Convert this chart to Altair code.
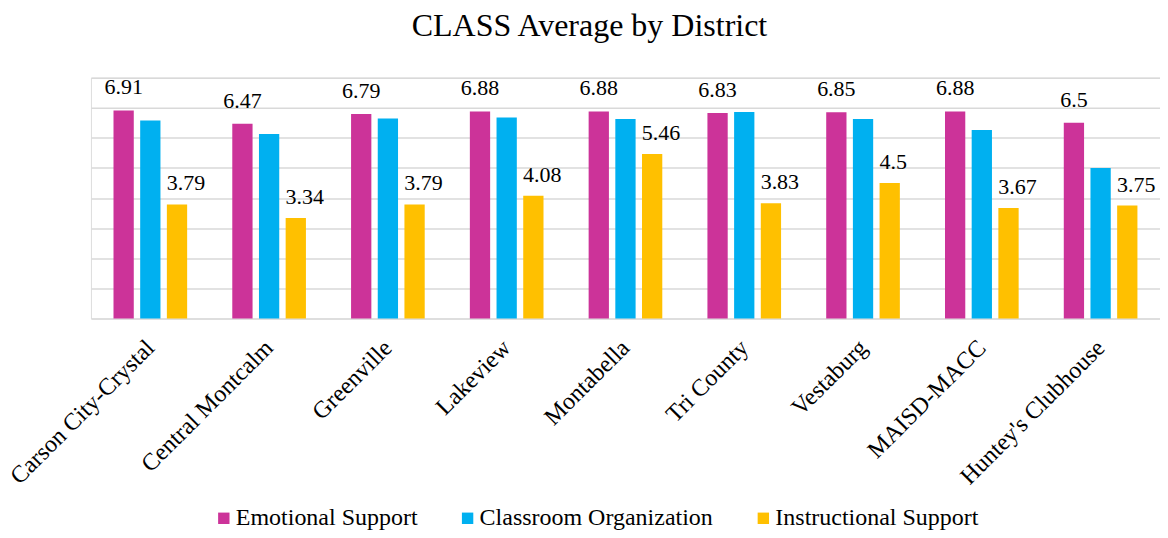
import altair as alt
import pandas as pd

districts = ["Carson City-Crystal", "Central Montcalm", "Greenville", "Lakeview",
             "Montabella", "Tri County", "Vestaburg", "MAISD-MACC", "Huntey's Clubhouse"]
series = ["Emotional Support", "Classroom Organization", "Instructional Support"]
colors = ["#CC3399", "#00B0F0", "#FFC000"]
emotional = [6.91, 6.47, 6.79, 6.88, 6.88, 6.83, 6.85, 6.88, 6.5]
classroom = [6.58, 6.13, 6.64, 6.68, 6.63, 6.86, 6.63, 6.26, 5.0]
instructional = [3.79, 3.34, 3.79, 4.08, 5.46, 3.83, 4.5, 3.67, 3.75]

rows = []
for name, vals in zip(series, [emotional, classroom, instructional]):
    for d, v in zip(districts, vals):
        rows.append({"District": d, "Series": name, "Value": v, "Label": f"{v:g}"})
df = pd.DataFrame(rows)

FONT = "Liberation Serif"

x = alt.X("District:N", sort=districts, title=None,
          scale=alt.Scale(paddingInner=0.38, paddingOuter=0.19),
          axis=alt.Axis(labelAngle=-45, labelFont=FONT, labelFontSize=24, labelColor="#000000",
                        ticks=False, domain=False, labelPadding=17, labelOffset=-8,
                        labelLimit=400))
xo = alt.XOffset("Series:N", sort=series,
                 scale=alt.Scale(paddingInner=0.24, paddingOuter=0))
y = alt.Y("Value:Q", title=None,
          scale=alt.Scale(domain=[0, 8], nice=False),
          axis=alt.Axis(values=list(range(0, 9)), labels=False, ticks=False, domain=False,
                        grid=True, gridColor="#D9D9D9", gridWidth=1.5))

base = alt.Chart(df)

bars = base.mark_bar().encode(
    x=x, xOffset=xo, y=y,
    color=alt.Color("Series:N", sort=series,
                    scale=alt.Scale(domain=series, range=colors),
                    legend=alt.Legend(orient="none", legendX=121, legendY=429,
                                      direction="horizontal", title=None, padding=0,
                                      symbolType="square", symbolSize=130,
                                      symbolStrokeWidth=0, labelFont=FONT,
                                      labelFontSize=24, labelColor="#000000",
                                      labelLimit=400,
                                      columnPadding=38, labelOffset=0)),
)

emo_labels = base.transform_filter(alt.datum.Series == "Emotional Support").mark_text(
    align="center", baseline="alphabetic", dy=-16, font=FONT, fontSize=22, color="#000000"
).encode(x=x, xOffset=xo, y=y, text="Label:N")

ins_labels = base.transform_filter(alt.datum.Series == "Instructional Support").mark_text(
    align="left", baseline="alphabetic", dx=-10.3, dy=-14, font=FONT, fontSize=22, color="#000000"
).encode(x=x, xOffset=xo, y=y, text="Label:N")

chart = alt.layer(bars, emo_labels, ins_labels).properties(
    width=1070, height=241,
    title=alt.TitleParams(text="CLASS Average by District", font=FONT, fontSize=32,
                          fontWeight="normal", color="#000000", anchor="middle",
                          baseline="alphabetic", dx=-36, offset=9),
    autosize=alt.AutoSizeParams(type="none"),
    padding={"left": 83, "top": 69.5, "right": 0, "bottom": 212},
).configure_view(stroke=None).configure(background="#FFFFFF", font=FONT
).configure_text(font=FONT)

chart.save("out.html", embed_options={"renderer": "svg", "actions": False})
